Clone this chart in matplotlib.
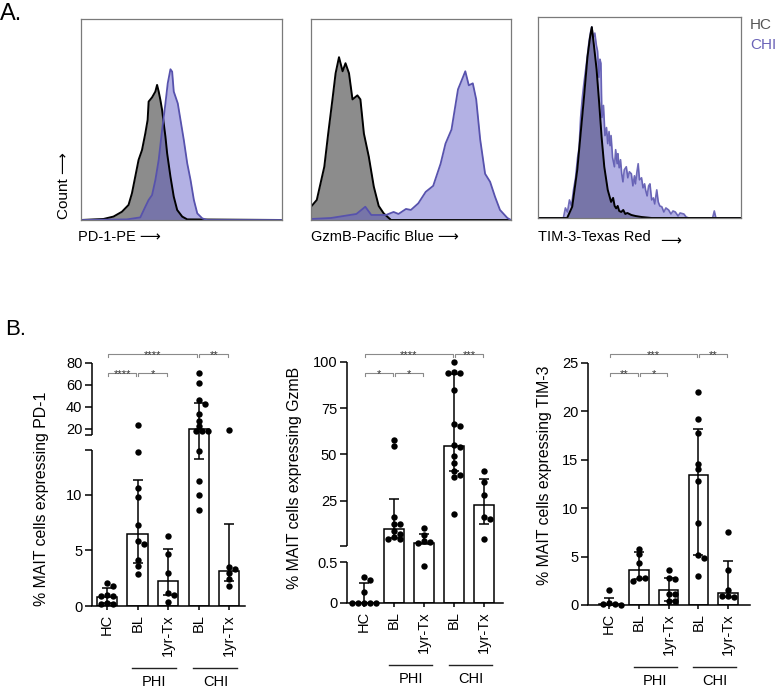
import numpy as np
import matplotlib.pyplot as plt

plt.rcParams['font.family'] = ['Liberation Sans', 'DejaVu Sans']

W, H = 777, 688

# ---------------- panel A: histogram outlines (channel 0-200, height = fraction of box) -------------
pd1_hc_c = [0, 22.3, 32.3, 40.7, 47.3, 50.7, 54, 57.3, 60.7, 64, 66.3, 67.3, 70.7, 74, 75.7, 77.3, 79,
            80.7, 82.3, 84, 85.7, 89, 92.3, 95.7, 100.7, 105.7, 200]
pd1_hc_h = [0, 0.005, 0.017, 0.041, 0.075, 0.133, 0.216, 0.299, 0.348, 0.431, 0.498, 0.589, 0.61, 0.639,
            0.672, 0.639, 0.597, 0.547, 0.481, 0.415, 0.332, 0.216, 0.116, 0.05, 0.017, 0.003, 0]
pd1_chi_c = [0, 45.7, 59, 64, 67.3, 70.7, 74, 77.3, 80.7, 84, 86.3, 89, 90.7, 92.3, 94, 96.3, 99, 102.3,
             105.7, 109, 112.3, 115.7, 120.7, 125.7, 200]
pd1_chi_h = [0, 0.003, 0.013, 0.066, 0.1, 0.124, 0.199, 0.299, 0.448, 0.58, 0.68, 0.75, 0.738, 0.639,
             0.614, 0.58, 0.498, 0.398, 0.282, 0.199, 0.1, 0.033, 0.008, 0, 0]

gzmb_hc_c = [0, 5.8, 13.3, 17.2, 21.7, 24.6, 28, 31.6, 34.5, 38, 41.5, 46.4, 49.4, 52.9, 57.8, 62.8,
             67.7, 72.7, 80, 200]
gzmb_hc_h = [0.066, 0.1, 0.265, 0.43, 0.61, 0.73, 0.81, 0.74, 0.78, 0.73, 0.6, 0.62, 0.6, 0.43, 0.315,
             0.166, 0.07, 0.033, 0, 0]
gzmb_chi_c = [0, 20, 45.4, 54.3, 60.3, 75, 82.6, 87.5, 95, 99.9, 107.3, 114.7, 122.2, 129.6, 134.5,
              140.5, 147, 151.9, 154.3, 157.8, 161.8, 165.2, 169.2, 174.1, 179.1, 184, 189, 196.4, 200]
gzmb_chi_h = [0.005, 0.01, 0.03, 0.066, 0.025, 0.025, 0.04, 0.03, 0.055, 0.05, 0.083, 0.14, 0.17, 0.28,
              0.38, 0.45, 0.65, 0.71, 0.74, 0.67, 0.68, 0.6, 0.4, 0.23, 0.19, 0.116, 0.05, 0.01, 0]

tim3_hc_c = [0, 28.7, 33.7, 38.7, 42, 45.3, 48.7, 51.3, 53, 55.3, 57.7, 60.3, 62.7, 65.3, 68.7, 72, 74,
             75.5, 77, 78.5, 80, 82, 84, 86, 88, 92, 96, 102, 112, 200]
tim3_hc_h = [0, 0, 0.056, 0.24, 0.42, 0.6, 0.8, 0.9, 0.95, 0.85, 0.74, 0.57, 0.40, 0.255, 0.14, 0.08,
             0.1, 0.06, 0.048, 0.06, 0.035, 0.03, 0.04, 0.02, 0.025, 0.015, 0.01, 0.005, 0, 0]
tim3_chi_c = [0, 25, 27, 29, 31, 33, 35, 37, 39, 40.5, 42, 43.7, 45, 47, 48.5, 50.3, 52, 53, 54.5, 56,
              57.5, 58.7, 60, 61, 62, 63, 64.5, 66, 67.5, 68.7, 70, 71, 72, 73.5, 75.3, 76.5, 78, 78.7,
              80, 81.3, 82.5, 83.7, 85, 87, 88.5, 90, 92, 93.5, 95, 96, 97.5, 98.7, 100, 102, 103.5,
              105, 106, 107.5, 109, 110.3, 112, 113.7, 115, 117, 118.5, 120, 122, 124, 126, 128.7, 131,
              133, 135.3, 138, 140, 143.7, 146, 148.7, 172, 173.7, 175.3, 200]
tim3_chi_h = [0, 0, 0.05, 0.03, 0.09, 0.06, 0.14, 0.2, 0.3, 0.35, 0.5, 0.6, 0.66, 0.74, 0.8, 0.88, 0.93,
              0.95, 0.9, 0.92, 0.86, 0.83, 0.7, 0.79, 0.77, 0.5, 0.56, 0.41, 0.45, 0.37, 0.43, 0.36,
              0.41, 0.3, 0.255, 0.34, 0.27, 0.32, 0.25, 0.29, 0.22, 0.18, 0.24, 0.255, 0.2, 0.23, 0.22,
              0.16, 0.21, 0.17, 0.23, 0.27, 0.19, 0.2, 0.15, 0.17, 0.14, 0.11, 0.16, 0.17, 0.09, 0.1,
              0.07, 0.14, 0.08, 0.06, 0.056, 0.03, 0.05, 0.04, 0.02, 0.035, 0.03, 0.01, 0.025, 0.02,
              0.005, 0, 0, 0.035, 0, 0]

# ---------------- panel B: MAIT cell percentages ----------------
groups = ['HC', 'BL', '1yr-Tx', 'BL', '1yr-Tx']

pd1_points = [
    [2.1, 1.8, 1.0, 0.9, 0.9, 0.3, 0.2, 0.2],
    [23.4, 13.8, 10.6, 9.8, 7.3, 5.8, 5.6, 4.1, 3.6, 2.9],
    [6.3, 4.7, 3.0, 1.2, 1.0, 0.4],
    [71, 62, 46, 43, 33.5, 27, 22.5, 18.5, 18.5, 18.5, 13.9, 11.2, 10.0, 8.6],
    [19.5, 3.5, 3.3, 3.0, 2.4, 1.8],
]
pd1_median = [0.85, 6.5, 2.25, 20, 3.1]
pd1_lo = [0.3, 3.9, 1.0, 13.2, 2.25]
pd1_hi = [1.6, 11.3, 5.15, 44, 7.4]

gzmb_points = [
    [0.32, 0.28, 0.14, 0, 0, 0, 0, 0],
    [57.8, 54.7, 16.5, 12.5, 12.3, 8.5, 7.2, 5.5, 4.5, 4.3],
    [10.5, 6.5, 3.5, 2.5, 2.0, 0.45],
    [100, 94.5, 94, 94, 85, 66.5, 65.5, 55, 54, 49, 45.5, 41, 39, 38, 18],
    [41, 35, 28, 16.5, 15.2, 4.6],
]
gzmb_median = [0, 9.7, 2.45, 54.7, 22.5]
gzmb_lo = [0, 5.0, 1.5, 41, 12.4]
gzmb_hi = [0.25, 26, 7.2, 93.4, 36.9]

tim3_points = [
    [1.5, 0.25, 0.15, 0.1, 0.05],
    [5.8, 5.3, 4.3, 2.8, 2.75, 2.5],
    [3.6, 2.75, 2.7, 1.15, 1.1, 0.45, 0.45],
    [22, 19.2, 17.8, 14.6, 14, 12.8, 8.5, 5.2, 4.9, 3.0],
    [7.5, 3.6, 1.5, 0.9, 0.8, 0.9],
]
tim3_median = [0.07, 3.65, 1.55, 13.4, 1.2]
tim3_lo = [0, 2.7, 0.45, 5.2, 0.85]
tim3_hi = [0.76, 5.44, 2.83, 18.15, 4.58]

pd1_sig = [(0, 3, 'top', '****'), (3, 4, 'top', '**'), (0, 1, 'low', '****'), (1, 2, 'low', '*')]
gzmb_sig = [(0, 3, 'top', '****'), (3, 4, 'top', '***'), (0, 1, 'low', '*'), (1, 2, 'low', '*')]
tim3_sig = [(0, 3, 'top', '***'), (3, 4, 'top', '**'), (0, 1, 'low', '**'), (1, 2, 'low', '*')]

fig = plt.figure(figsize=(W / 100, H / 100), dpi=100)


def rect(x0, y0, x1, y1):
    return [x0 / W, 1 - y1 / H, (x1 - x0) / W, (y1 - y0) / H]


GRAY = '#8c8c8c'
CHI_FILL = (0.38, 0.36, 0.78)
CHI_LINE = '#5752ad'


def histo(box, hc_c, hc_h, chi_c, chi_h, hc_on_top=False):
    ax = fig.add_axes(rect(*box))
    ax.fill_between(hc_c, hc_h, color=GRAY, lw=0)
    ax.fill_between(chi_c, chi_h, color=CHI_FILL, alpha=0.48, lw=0)
    if hc_on_top:
        ax.plot(chi_c, chi_h, color=CHI_LINE, lw=1.2, alpha=0.85)
        ax.plot(hc_c, hc_h, color='k', lw=1.4)
    else:
        ax.plot(hc_c, hc_h, color='k', lw=1.4)
        ax.plot(chi_c, chi_h, color=CHI_LINE, lw=1.3)
    ax.set_xlim(0, 200)
    ax.set_ylim(0, 1)
    ax.set_xticks([])
    ax.set_yticks([])
    for s in ax.spines.values():
        s.set_color('#7a7a7a')
        s.set_linewidth(0.9)
    return ax


histo((81, 19, 282, 220), pd1_hc_c, pd1_hc_h, pd1_chi_c, pd1_chi_h)
histo((311, 19, 511, 220), gzmb_hc_c, gzmb_hc_h, gzmb_chi_c, gzmb_chi_h)
histo((538, 17, 741, 218), tim3_hc_c, tim3_hc_h, tim3_chi_c, tim3_chi_h, hc_on_top=True)

fs_a = 10.5
fig.text(0 / W, 1 - 14 / H, 'A.', fontsize=17, va='center', ha='left')
fig.text(64 / W, 1 - 219 / H, 'Count \u27f6', rotation=90, fontsize=11, ha='center', va='bottom')
fig.text(78 / W, 1 - 237 / H, 'PD-1-PE \u27f6', fontsize=fs_a, va='center', ha='left')
fig.text(311 / W, 1 - 237 / H, 'GzmB-Pacific Blue \u27f6', fontsize=fs_a, va='center', ha='left')
fig.text(538 / W, 1 - 237 / H, 'TIM-3-Texas Red', fontsize=fs_a, va='center', ha='left')
fig.text(660 / W, 1 - 241 / H, '\u27f6', fontsize=fs_a, va='center', ha='left')
fig.text(750 / W, 1 - 25 / H, 'HC', fontsize=11, color='#555555', va='center', ha='left')
fig.text(750 / W, 1 - 45 / H, 'CHI', fontsize=11, color='#6b63b8', va='center', ha='left')
fig.text(5 / W, 1 - 329 / H, 'B.', fontsize=16, va='center', ha='left')


def piecewise(vals, pxs):
    vals = np.asarray(vals, float)
    pxs = np.asarray(pxs, float)
    return (lambda y: np.interp(y, vals, pxs), lambda p: np.interp(p, pxs, vals))


def swarm(ax, xc, vals, d=6.0):
    pts = ax.transData.transform(np.column_stack([np.full(len(vals), float(xc)), vals]))
    placed = []
    xs = []
    for px, py in pts:
        for k in [0, 1, -1, 2, -2, 3, -3, 4, -4, 5, -5]:
            cx = px + k * d * 0.5
            if all((cx - qx) ** 2 + (py - qy) ** 2 >= (d * 0.8) ** 2 for qx, qy in placed):
                break
        placed.append((cx, py))
        xs.append(ax.transData.inverted().transform((cx, py))[0])
    return xs


def dot_panel(box, xlim, scale, points, med, lo, hi, ticks, ticklabels, segments, sig,
              ylabel, ylabel_xy):
    ax = fig.add_axes(rect(*box))
    f, finv = scale
    ax.set_yscale('function', functions=(f, finv))
    h_px = box[3] - box[1]
    ax.set_ylim(0, float(finv(h_px)))
    ax.set_xlim(*xlim)
    x = np.arange(len(groups))
    ax.bar(x, med, width=0.66, color='white', edgecolor='k', lw=1.1, zorder=1)
    ax.errorbar(x, med, yerr=[np.array(med) - np.array(lo), np.array(hi) - np.array(med)],
                fmt='none', ecolor='k', elinewidth=1.1, capsize=3.5, capthick=1.1, zorder=2)
    for i, vals in enumerate(points):
        xs = swarm(ax, i, vals)
        ax.plot(xs, vals, 'o', color='k', ms=4.6, mew=0, zorder=3, clip_on=False)
    for side in ['left', 'top', 'right']:
        ax.spines[side].set_visible(False)
    ax.spines['bottom'].set_linewidth(1.1)
    for a, b in segments:
        ax.plot([xlim[0], xlim[0]], [a, b], color='k', lw=1.1, clip_on=False,
                solid_capstyle='butt')
    ax.set_yticks(ticks)
    ax.set_yticklabels(ticklabels)
    ax.yaxis.set_minor_locator(plt.NullLocator())
    ax.tick_params(axis='y', length=5, width=1.1, labelsize=10.5, pad=2)
    ax.set_xticks(x)
    ax.set_xticklabels(groups, rotation=90)
    ax.tick_params(axis='x', length=3, width=1.1, labelsize=10.5, pad=3)

    tr = ax.get_xaxis_transform()
    for i, j, lvl, lab in sig:
        yb = 1 - (14 if lvl == 'top' else 33) / h_px
        dy = 3 / h_px
        x0, x1 = i + 0.03, j - 0.04
        ax.plot([x0, x0, x1, x1], [yb - dy, yb, yb, yb - dy], color='#8a8a8a', lw=0.8,
                transform=tr, clip_on=False)
        ax.annotate(lab, ((x0 + x1) / 2, yb), xycoords=tr, xytext=(0, -3.2),
                    textcoords='offset points', ha='center', va='baseline', fontsize=8,
                    color='#333333')
    for i, j, name in [(1, 2, 'PHI'), (3, 4, 'CHI')]:
        yl = -62 / h_px
        ax.plot([i - 0.17, j + 0.27], [yl, yl], color='#222222', lw=1.0, transform=tr,
                clip_on=False)
        ax.text((i + j) / 2 + 0.05, -76 / h_px, name, transform=tr, ha='center', va='center',
                fontsize=10.5)
    fig.text(ylabel_xy[0] / W, 1 - ylabel_xy[1] / H, ylabel, rotation=90, ha='center',
             va='center', fontsize=11.4)
    return ax


pd1_scale = piecewise([-100, 0, 14, 15, 300], [-1114, 0, 156, 171.5, 171.5 + 285 * 1.1])
dot_panel((92, 340, 245, 606), (-0.49, 4.52), pd1_scale, pd1_points, pd1_median, pd1_lo, pd1_hi,
          [0, 5, 10, 14, 15, 20, 40, 60, 80], ['0', '5', '10', '', '', '20', '40', '60', '80'],
          [(0, 14), (15, 80)], pd1_sig, '% MAIT cells expressing PD-1', (42, 499))

gzmb_scale = piecewise([-10, 0, 0.5, 0.6, 300], [-820, 0, 41, 57, 57 + 299.4 * 1.853])
dot_panel((347, 340, 503, 603), (-0.567, 4.63), gzmb_scale, gzmb_points, gzmb_median, gzmb_lo,
          gzmb_hi, [0, 0.5, 0.6, 25, 50, 75, 100], ['0', '0.5', '', '25', '50', '75', '100'],
          [(0, 0.5), (0.6, 100)], gzmb_sig, '% MAIT cells expressing GzmB', (295, 478))

tim3_scale = piecewise([-100, 300], [-968, 2904])
dot_panel((588, 340, 750, 605), (-0.705, 4.73), tim3_scale, tim3_points, tim3_median, tim3_lo,
          tim3_hi, [0, 5, 10, 15, 20, 25], ['0', '5', '10', '15', '20', '25'],
          [(0, 25)], tim3_sig, '% MAIT cells expressing TIM-3', (545, 475))

fig.savefig('out.png', dpi=100)
